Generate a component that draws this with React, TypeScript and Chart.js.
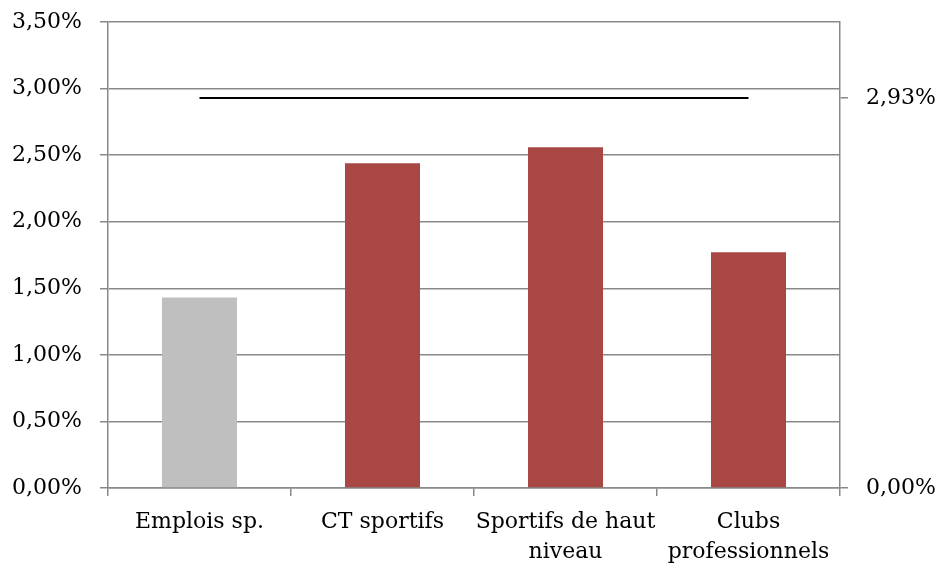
import React, { useEffect, useRef } from "react";
import { Chart, registerables } from "chart.js";

Chart.register(...registerables);

const categories: (string | string[])[] = [
  "Emplois sp.",
  "CT sportifs",
  ["Sportifs de haut", "niveau"],
  ["Clubs", "professionnels"],
];
const barValues = [1.43, 2.44, 2.56, 1.77];
const barColors = ["#BFBFBF", "#A84744", "#A84744", "#A84744"];
const lineValues = [2.93, 2.93, 2.93, 2.93];
const leftTicks = [0, 0.5, 1, 1.5, 2, 2.5, 3, 3.5];
const rightTicks = [0, 2.93];

const fmt = (v: number) => v.toFixed(2).replace(".", ",") + "%";

export default function App() {
  const ref = useRef<HTMLCanvasElement | null>(null);
  useEffect(() => {
    if (!ref.current) return;
    const font = { family: "'DejaVu Serif', serif", size: 22, lineHeight: 1.15 };
    const xFont = { family: "'DejaVu Serif', serif", size: 22, lineHeight: 1.36 };
    const grey = "#898989";
    const fixV = (w: number) => (s: any) => {
      s.width = w;
      s.paddingTop = 0;
      s.paddingBottom = 0;
    };
    const chart = new Chart(ref.current, {
      type: "bar",
      data: {
        labels: categories,
        datasets: [
          {
            type: "line",
            data: lineValues,
            borderColor: "#000000",
            borderWidth: 2,
            pointRadius: 0,
            yAxisID: "y",
            order: 0,
          } as any,
          {
            type: "bar",
            data: barValues,
            backgroundColor: barColors,
            categoryPercentage: 1,
            barPercentage: 0.41,
            yAxisID: "y",
            order: 1,
          },
        ],
      },
      options: {
        animation: false,
        responsive: false,
        maintainAspectRatio: false,
        layout: { padding: { top: 22, right: 0, left: 0, bottom: 0 } },
        plugins: { legend: { display: false }, tooltip: { enabled: false } },
        scales: {
          x: {
            offset: true,
            grid: {
              offset: true,
              drawOnChartArea: false,
              drawTicks: true,
              tickLength: 8,
              color: grey,
              lineWidth: 1.5,
            },
            border: { color: grey, width: 1.5 },
            ticks: { color: "#000", font: xFont, padding: 11, maxRotation: 0, autoSkip: false },
            afterFit: (s: any) => {
              s.height = 78;
              s.paddingLeft = 0;
              s.paddingRight = 0;
            },
          },
          y: {
            position: "left",
            min: 0,
            max: 3.5,
            afterBuildTicks: (axis: any) => {
              axis.ticks = leftTicks.map((v) => ({ value: v }));
            },
            grid: { color: grey, lineWidth: 1.5, tickLength: 8 },
            border: { color: grey, width: 1.5 },
            ticks: { color: "#000", font, padding: 18, callback: (v: any) => fmt(Number(v)) },
            afterFit: fixV(108),
          },
          y2: {
            position: "right",
            min: 0,
            max: 3.5,
            afterBuildTicks: (axis: any) => {
              axis.ticks = rightTicks.map((v) => ({ value: v }));
            },
            grid: { drawOnChartArea: false, color: grey, lineWidth: 1.5, tickLength: 8 },
            border: { color: grey, width: 1.5 },
            ticks: {
              color: "#000",
              font,
              padding: 18,
              callback: (v: any) => fmt(Number(v)),
            },
            afterFit: fixV(102),
          },
        },
      } as any,
    });
    return () => chart.destroy();
  }, []);
  return (
    <div style={{ position: "absolute", left: 0, top: 0, width: 942, height: 566, background: "#fff" }}>
      <canvas ref={ref} width={942} height={566} />
    </div>
  );
}
